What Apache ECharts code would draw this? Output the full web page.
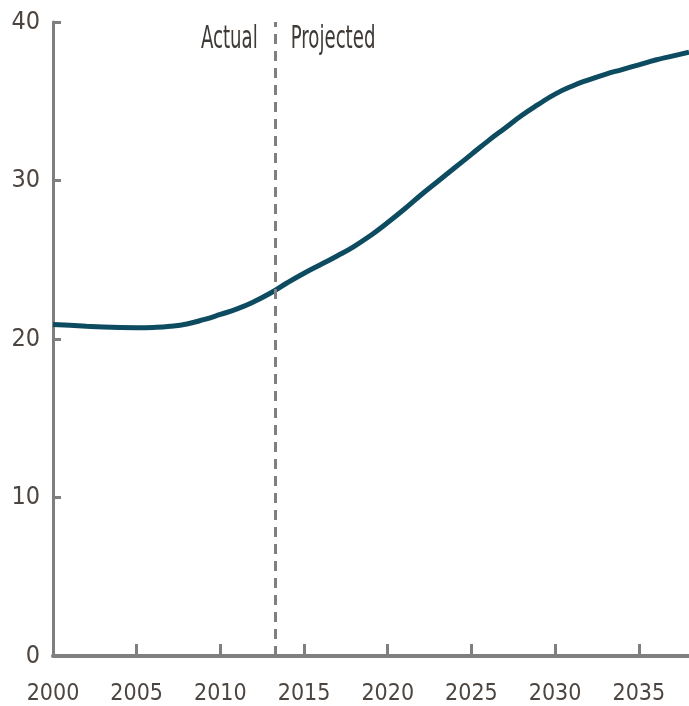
<!DOCTYPE html>
<html>
<head>
<meta charset="utf-8">
<script src="https://cdn.jsdelivr.net/npm/echarts@6/dist/echarts.min.js"></script>
<style>
  html, body { margin: 0; padding: 0; background: #fff; }
  #chart { width: 689px; height: 706px; }
</style>
</head>
<body>
<div id="chart"></div>
<script>
// yearly values
var years = [2000, 2001, 2002, 2003, 2004, 2005, 2006, 2007, 2008, 2009,
             2010, 2011, 2012, 2013, 2014, 2015, 2016, 2017, 2018, 2019,
             2020, 2021, 2022, 2023, 2024, 2025, 2026, 2027, 2028, 2029,
             2030, 2031, 2032, 2033, 2034, 2035, 2036, 2037, 2038];
var values = [20.92, 20.86, 20.8, 20.75, 20.72, 20.71, 20.73, 20.8, 20.95, 21.22,
              21.55, 21.9, 22.35, 22.9, 23.55, 24.15, 24.7, 25.25, 25.85, 26.55,
              27.35, 28.2, 29.1, 29.95, 30.8, 31.65, 32.5, 33.3, 34.1, 34.8,
              35.45, 35.95, 36.35, 36.7, 37.0, 37.3, 37.6, 37.85, 38.1];
var splitYear = 2013.25;
var phaseLabels = ['Actual', 'Projected'];

var labelFont = '"DejaVu Sans Condensed", "Liberation Sans Narrow", sans-serif';
var axisGray = '#7f7f7f';

var chart = echarts.init(document.getElementById('chart'));

var option = {
  backgroundColor: '#fff',
  animation: false,
  grid: { left: 53, right: 0, top: 22, bottom: 49 },
  xAxis: {
    type: 'value',
    min: 2000,
    max: 2038,
    interval: 5,
    splitLine: { show: false },
    axisLine: { lineStyle: { color: axisGray, width: 4 } },
    axisTick: { inside: true, length: 12, lineStyle: { color: axisGray, width: 3 } },
    axisLabel: {
      margin: 27,
      showMaxLabel: false,
      color: '#4d4540',
      fontFamily: labelFont,
      fontSize: 23,
      formatter: function (v) { return v % 5 === 0 ? String(v) : ''; }
    }
  },
  yAxis: {
    type: 'value',
    min: 0,
    max: 40,
    interval: 10,
    splitLine: { show: false },
    axisLine: { show: true, lineStyle: { color: axisGray, width: 3 } },
    axisTick: { show: true, inside: true, length: 8, lineStyle: { color: axisGray, width: 3 } },
    axisLabel: {
      margin: 13,
      color: '#4d4540',
      fontFamily: labelFont,
      fontSize: 25
    }
  },
  series: [
    {
      type: 'line',
      smooth: 0.5,
      symbol: 'none',
      lineStyle: { color: '#0d4b60', width: 5 },
      data: years.map(function (y, i) { return [y, values[i]]; }),
      markLine: {
        silent: true,
        symbol: 'none',
        label: { show: false },
        lineStyle: { color: axisGray, width: 3, type: [10, 7] },
        data: [{ xAxis: splitYear }]
      }
    }
  ]
};
chart.setOption(option);

// put the Actual / Projected text either side of the divider
var px = chart.convertToPixel({ xAxisIndex: 0 }, splitYear);
chart.setOption({
  graphic: [
    {
      type: 'text',
      x: px - 17,
      y: 40,
      scaleX: 0.63,
      style: {
        text: phaseLabels[0],
        fill: '#3f3a36',
        font: '32px ' + labelFont,
        align: 'right',
        verticalAlign: 'middle'
      }
    },
    {
      type: 'text',
      x: px + 16,
      y: 40,
      scaleX: 0.63,
      style: {
        text: phaseLabels[1],
        fill: '#3f3a36',
        font: '32px ' + labelFont,
        align: 'left',
        verticalAlign: 'middle'
      }
    }
  ]
});
</script>
</body>
</html>
